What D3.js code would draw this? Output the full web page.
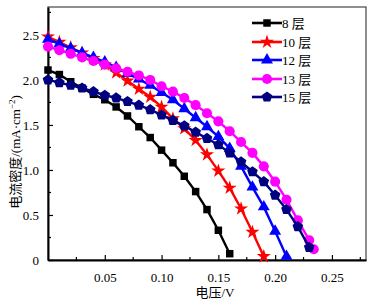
<!DOCTYPE html>
<html><head><meta charset="utf-8">
<script src="https://cdn.jsdelivr.net/npm/d3@7"></script>
<style>
html,body{margin:0;padding:0;background:#fff;}
svg text{font-family:"Liberation Serif","Times New Roman","Noto Sans CJK SC",serif;}
</style></head>
<body><svg id="c" width="374" height="301"></svg>
<script>
// ---- data ----
const seriesNames = ["8 层", "10 层", "12 层", "13 层", "15 层"];
const seriesColors = ["#000000", "#ff0000", "#0000ff", "#ff00ff", "#000080"];
const seriesShapes = ["square", "star", "triangle", "circle", "pentagon"];

const v8  = [0,0.01,0.02,0.03,0.04,0.05,0.06,0.07,0.08,0.09,0.10,0.11,0.12,0.13,0.14,0.15,0.16];
const j8  = [2.11,2.06,1.98,1.91,1.84,1.78,1.70,1.60,1.48,1.36,1.22,1.08,0.93,0.76,0.56,0.33,0.07];

const v10 = [0,0.01,0.02,0.03,0.04,0.05,0.06,0.07,0.08,0.09,0.10,0.11,0.12,0.13,0.14,0.15,0.16,0.17,0.18,0.19];
const j10 = [2.48,2.42,2.36,2.30,2.24,2.17,2.08,1.99,1.90,1.81,1.70,1.57,1.46,1.33,1.17,0.99,0.80,0.57,0.31,0.04];

const v12 = [0,0.01,0.02,0.03,0.04,0.05,0.06,0.07,0.08,0.09,0.10,0.11,0.12,0.13,0.14,0.15,0.16,0.17,0.18,0.19,0.20,0.21];
const j12 = [2.45,2.40,2.35,2.30,2.25,2.20,2.14,2.07,2.01,1.94,1.86,1.78,1.68,1.58,1.48,1.37,1.24,1.04,0.81,0.59,0.32,0.04];

const v13 = [0,0.01,0.02,0.03,0.04,0.05,0.06,0.07,0.08,0.09,0.10,0.11,0.12,0.13,0.14,0.15,0.16,0.17,0.18,0.19,0.20,0.21,0.22,0.23,0.234];
const j13 = [2.37,2.33,2.29,2.25,2.21,2.17,2.13,2.09,2.05,2.00,1.93,1.87,1.80,1.72,1.63,1.54,1.43,1.31,1.19,1.04,0.87,0.67,0.44,0.22,0.12];

const v15 = [0,0.01,0.02,0.03,0.04,0.05,0.06,0.07,0.08,0.09,0.10,0.11,0.12,0.13,0.14,0.15,0.16,0.17,0.18,0.19,0.20,0.21,0.22,0.23];
const j15 = [2.00,1.97,1.94,1.91,1.87,1.83,1.80,1.76,1.72,1.67,1.61,1.55,1.49,1.42,1.35,1.28,1.19,1.09,0.98,0.87,0.72,0.56,0.37,0.14];

const xTicks = [0.05,0.10,0.15,0.20,0.25];
const xTickLabels = ["0.05","0.10","0.15","0.20","0.25"];
const yTicks = [0,0.5,1.0,1.5,2.0,2.5];
const yTickLabels = ["0","0.5","1.0","1.5","2.0","2.5"];
const xMinor = [0.025,0.075,0.125,0.175,0.225,0.275];
const yMinor = [0.25,0.75,1.25,1.75,2.25,2.75];
const xTitle = "电压/V";

const series = [[v8,j8],[v10,j10],[v12,j12],[v13,j13],[v15,j15]];

// ---- layout ----
const L = 48, R = 366, T = 7, B = 260;
const svg = d3.select("#c");
const x = d3.scaleLinear().domain([0, 0.28]).range([L, R]);
const y = d3.scaleLinear().domain([0, 2.81]).range([B, T]);

// frame (top/right thin)
svg.append("rect").attr("x", L).attr("y", T).attr("width", R - L).attr("height", B - T)
  .attr("fill", "none").attr("stroke", "#444").attr("stroke-width", 1.2);

// axes
const xAxis = svg.append("g").attr("transform", `translate(0,${B})`)
  .call(d3.axisBottom(x).tickValues(xTicks).tickFormat((d,i)=>xTickLabels[i]).tickSizeInner(-5).tickSizeOuter(0).tickPadding(13));
const yAxis = svg.append("g").attr("transform", `translate(${L},0)`)
  .call(d3.axisLeft(y).tickValues(yTicks).tickFormat((d,i)=>yTickLabels[i]).tickSizeInner(-5).tickSizeOuter(0).tickPadding(9));
[xAxis, yAxis].forEach(g => {
  g.select(".domain").attr("stroke", "#000").attr("stroke-width", 2);
  g.selectAll(".tick line").attr("stroke", "#000").attr("stroke-width", 1.2);
  g.selectAll(".tick text").attr("font-size", 13).attr("fill", "#000")
   .style("font-family", '"Liberation Serif","Times New Roman",serif');
});
xAxis.selectAll(".tick text").attr("dy", "0.71em");
// minor ticks
svg.append("g").selectAll("line").data(xMinor).join("line")
  .attr("x1", d => x(d)).attr("x2", d => x(d)).attr("y1", B).attr("y2", B - 3)
  .attr("stroke", "#000").attr("stroke-width", 1.2);
svg.append("g").selectAll("line").data(yMinor).join("line")
  .attr("x1", L).attr("x2", L + 3).attr("y1", d => y(d)).attr("y2", d => y(d))
  .attr("stroke", "#000").attr("stroke-width", 1.2);

// markers
function pentagon(r) {
  const pts = d3.range(5).map(i => {
    const a = -Math.PI / 2 + i * 2 * Math.PI / 5;
    return [r * Math.cos(a), r * Math.sin(a)];
  });
  return "M" + pts.map(p => p.join(",")).join("L") + "Z";
}
function markerPath(shape) {
  switch (shape) {
    case "square": return d3.symbol(d3.symbolSquare, 56)();
    case "star": return d3.symbol(d3.symbolStar, 62)();
    case "triangle": return d3.symbol(d3.symbolTriangle, 62)();
    case "circle": return d3.symbol(d3.symbolCircle, 80)();
    case "pentagon": return pentagon(5.6);
  }
}

const line = d3.line().x(d => x(d[0])).y(d => y(d[1]));
series.forEach((s, k) => {
  const pts = s[0].map((v, i) => [v, s[1][i]]);
  const g = svg.append("g");
  g.append("path").datum(pts).attr("d", line).attr("fill", "none")
    .attr("stroke", seriesColors[k]).attr("stroke-width", 2.4);
  g.selectAll("path.m").data(pts).join("path").attr("class", "m")
    .attr("d", markerPath(seriesShapes[k]))
    .attr("transform", d => `translate(${x(d[0])},${y(d[1])})`)
    .attr("fill", seriesColors[k]);
});

// legend
const legY = [23, 42, 60, 79, 97];
seriesNames.forEach((n, k) => {
  const g = svg.append("g").attr("transform", `translate(252,${legY[k]})`);
  g.append("line").attr("x1", 0).attr("x2", 30).attr("stroke", seriesColors[k]).attr("stroke-width", 2.6);
  g.append("path").attr("d", markerPath(seriesShapes[k])).attr("transform", "translate(15,0)").attr("fill", seriesColors[k]);
  g.append("text").attr("x", 30).attr("y", 0).attr("dy", "0.35em").attr("font-size", 13).attr("fill", "#000").text(n);
});

// titles
svg.append("text").attr("x", 215).attr("y", 297).attr("text-anchor", "middle").attr("font-size", 13).text(xTitle);
const yt = svg.append("text").attr("transform", "translate(20,152) rotate(-90)").attr("text-anchor", "middle").attr("font-size", 13);
yt.append("tspan").text("电流密度/(mA·cm");
yt.append("tspan").attr("font-size", 9).attr("dy", -5).text("−2");
yt.append("tspan").attr("dy", 5).text(")");
</script></body></html>
